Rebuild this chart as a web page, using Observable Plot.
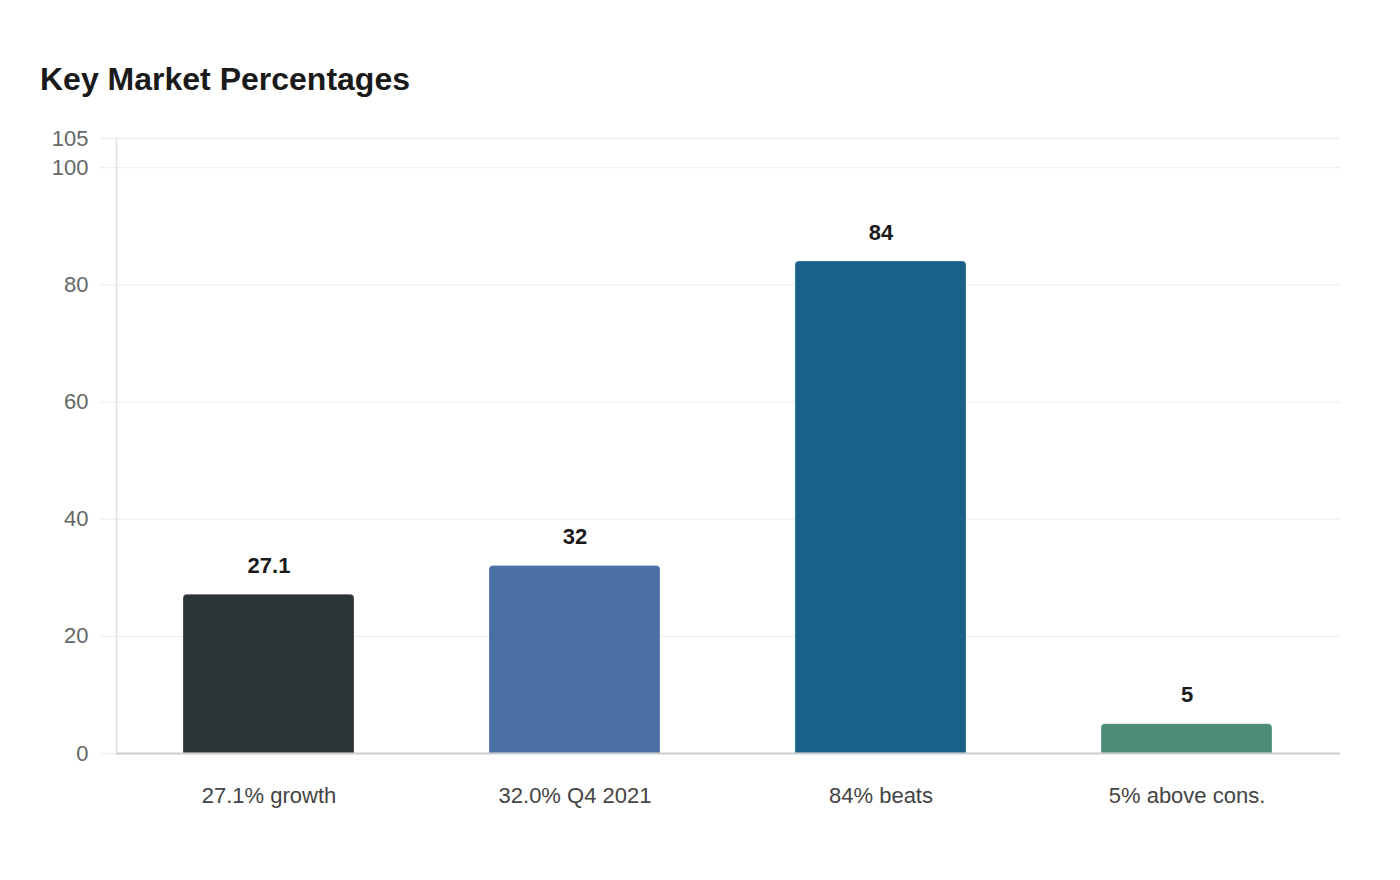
<!DOCTYPE html>
<html>
<head>
<meta charset="utf-8">
<script src="https://cdn.jsdelivr.net/npm/d3@7"></script>
<script src="https://cdn.jsdelivr.net/npm/@observablehq/plot@0.6"></script>
<style>
  html, body { margin: 0; padding: 0; background: #ffffff; }
  body { width: 1400px; height: 880px; position: relative; overflow: hidden; font-family: "Liberation Sans", Arial, sans-serif; }
  #title { position: absolute; left: 40px; top: 63px; font-size: 32px; line-height: 32px; font-weight: bold; color: #1a1a1a; margin: 0; }
  #chart { position: absolute; left: 0; top: 120px; }
</style>
</head>
<body>
<div id="title">Key Market Percentages</div>
<div id="chart"></div>
<script>
const categories = ["27.1% growth", "32.0% Q4 2021", "84% beats", "5% above cons."];
const values = [27.1, 32, 84, 5];
const labels = ["27.1", "32", "84", "5"];
const colors = ["#2d3436", "#4a6fa5", "#1a6189", "#4e8c7a"];
const yTicks = [0, 20, 40, 60, 80, 100, 105];

const data = categories.map((c, i) => ({ category: c, value: values[i], label: labels[i], color: colors[i] }));

const chart = Plot.plot({
  width: 1400,
  height: 760,
  marginTop: 18,
  marginBottom: 127,
  marginLeft: 116,
  marginRight: 60,
  style: { fontFamily: "'Liberation Sans', Arial, sans-serif", background: "transparent" },
  x: { domain: categories, paddingInner: 0.44, paddingOuter: 0.22, label: null },
  y: { domain: [0, 105], label: null },
  marks: [
    Plot.gridY(yTicks, { stroke: "#ebebeb", strokeOpacity: 1 }),
    Plot.axisY({ ticks: yTicks, tickSize: 16, tickPadding: 12, fontSize: 22, fill: "#666666", stroke: "#ebebeb", strokeOpacity: 1, label: null }),
    Plot.frame({ anchor: "left", stroke: "#e0e0e0", strokeWidth: 1.5 }),
    Plot.barY(data, { x: "category", y: "value", fill: "color", ry1: 4, stroke: "#ffffff", strokeOpacity: 0.25, strokeWidth: 1 }),
    Plot.ruleY([0], { stroke: "#cccccc", strokeWidth: 2 }),
    Plot.axisX({ tickSize: 0, tickPadding: 34, fontSize: 22, fill: "#444444", label: null }),
    Plot.text(data, { x: "category", y: "value", text: "label", dy: -29, fontSize: 22, fontWeight: "bold", fill: "#1a1a1a" })
  ]
});
document.getElementById("chart").appendChild(chart);
</script>
</body>
</html>
